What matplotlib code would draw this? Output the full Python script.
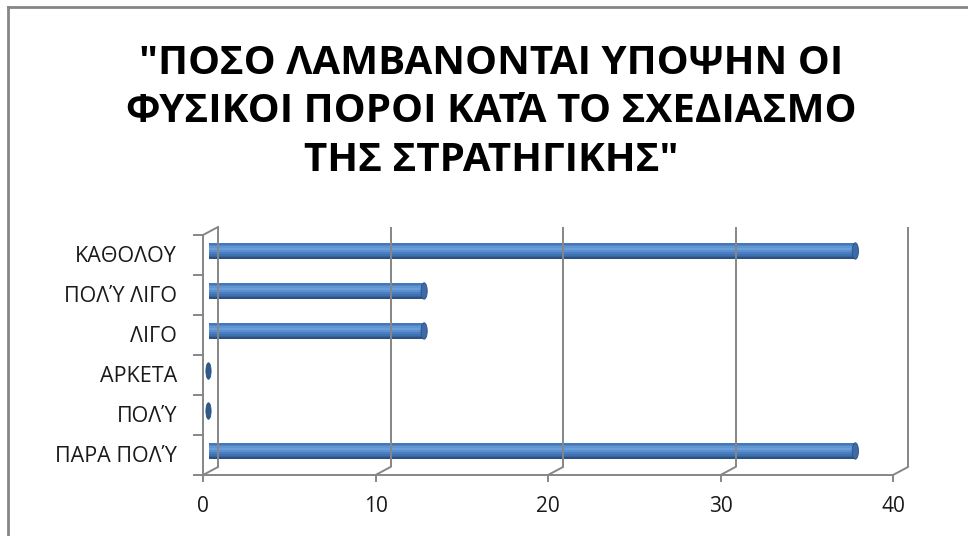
import matplotlib
matplotlib.use("Agg")
import matplotlib.pyplot as plt
import matplotlib.transforms as mtransforms
from matplotlib.patches import Ellipse
from matplotlib.lines import Line2D

plt.rcParams['font.family'] = ['Open Sans', 'DejaVu Sans']

# data
categories = ['ΠΑΡΑ ΠΟΛΎ', 'ΠΟΛΎ', 'ΑΡΚΕΤΑ', 'ΛΙΓΟ', 'ΠΟΛΎ ΛΙΓΟ', 'ΚΑΘΟΛΟΥ']
values = [37.5, 0, 0, 12.5, 12.5, 37.5]
xticks = [0, 10, 20, 30, 40]
title = '"ΠΟΣΟ ΛΑΜΒΑΝΟΝΤΑΙ ΥΠΟΨΗΝ ΟΙ\nΦΥΣΙΚΟΙ ΠΟΡΟΙ ΚΑΤΆ ΤΟ ΣΧΕΔΙΑΣΜΟ\nΤΗΣ ΣΤΡΑΤΗΓΙΚΗΣ"'

W, H = 968, 536
fig = plt.figure(figsize=(W / 100, H / 100), dpi=100)

# chart border (top + left only visible)
fig.add_artist(Line2D([8 / W, 8 / W], [0, 1 - 7 / H], transform=fig.transFigure,
                      color='#868686', lw=2))
fig.add_artist(Line2D([8 / W, 1], [1 - 7 / H, 1 - 7 / H], transform=fig.transFigure,
                      color='#868686', lw=2))

fig.text(491 / W, 1 - 112 / H, title, ha='center', va='center',
         fontsize=29, fontweight='bold', linespacing=1.32)

ax = fig.add_axes([203 / W, (H - 475) / H, 690 / W, 240 / H])
ax.set_xlim(0, 40)
ax.set_ylim(-0.5, len(categories) - 0.5)
ax.axis('off')

grid_c = '#868686'
lw = 1.4
dx, dy = 15, 8
back = ax.transData + mtransforms.Affine2D().translate(dx, dy)
mid = ax.transData + mtransforms.Affine2D().translate(dx / 2 - 2, dy / 2)
y0, y1 = -0.5, len(categories) - 0.5


def pix_line(p, q):
    ax.add_artist(Line2D([p[0], q[0]], [p[1], q[1]], transform=None,
                         color=grid_c, lw=lw, clip_on=False))


# back wall gridlines + floor diagonals
for t in xticks:
    ax.plot([t, t], [y0, y1], color=grid_c, lw=lw, transform=back,
            clip_on=False, solid_capstyle='butt')
    pix_line(ax.transData.transform((t, y0)), back.transform((t, y0)))
# front floor edge and left axis
ax.plot([0, 40], [y0, y0], color=grid_c, lw=lw, clip_on=False)
ax.plot([0, 0], [y0, y1], color=grid_c, lw=lw, clip_on=False)
pix_line(ax.transData.transform((0, y1)), back.transform((0, y1)))

# ticks and labels
for t in xticks:
    p = ax.transData.transform((t, y0))
    pix_line(p, (p[0], p[1] - 6))
    ax.text(t, y0, str(t),
            transform=ax.transData + mtransforms.Affine2D().translate(0, -31),
            ha='center', va='center', fontsize=15, color='#1a1a1a')
for i in range(len(categories) + 1):
    p = ax.transData.transform((0, y0 + i))
    pix_line((p[0] - 9, p[1]), p)
for i, c in enumerate(categories):
    ax.text(0, i, c,
            transform=ax.transData + mtransforms.Affine2D().translate(-26, -1),
            ha='right', va='center', fontsize=15.5, color='#1a1a1a')

# cylinder bars
bh = 0.41
shades = ['#2B5283', '#3565A0', '#3F71B2', '#4A7EC0', '#5A8FD0', '#6B9FD9',
          '#6196D3', '#5086C6', '#4578B8']
n = len(shades)
for i, v in enumerate(values):
    if v > 0:
        for k, col in enumerate(shades):
            ax.barh(i - bh / 2 + k * bh / n + bh / (2 * n), v, height=bh / n,
                    color=col, transform=mid, linewidth=0)
        ax.add_patch(Ellipse((v, i), 0.36, bh, transform=mid,
                             facecolor='#3C6BA8', edgecolor='#2B5283', lw=0.6))
    else:
        ax.add_patch(Ellipse((0, i), 0.3, bh, transform=mid,
                             facecolor='#2F5A8C', edgecolor='#284F7C', lw=0.6))

fig.savefig('out.png', dpi=100)
